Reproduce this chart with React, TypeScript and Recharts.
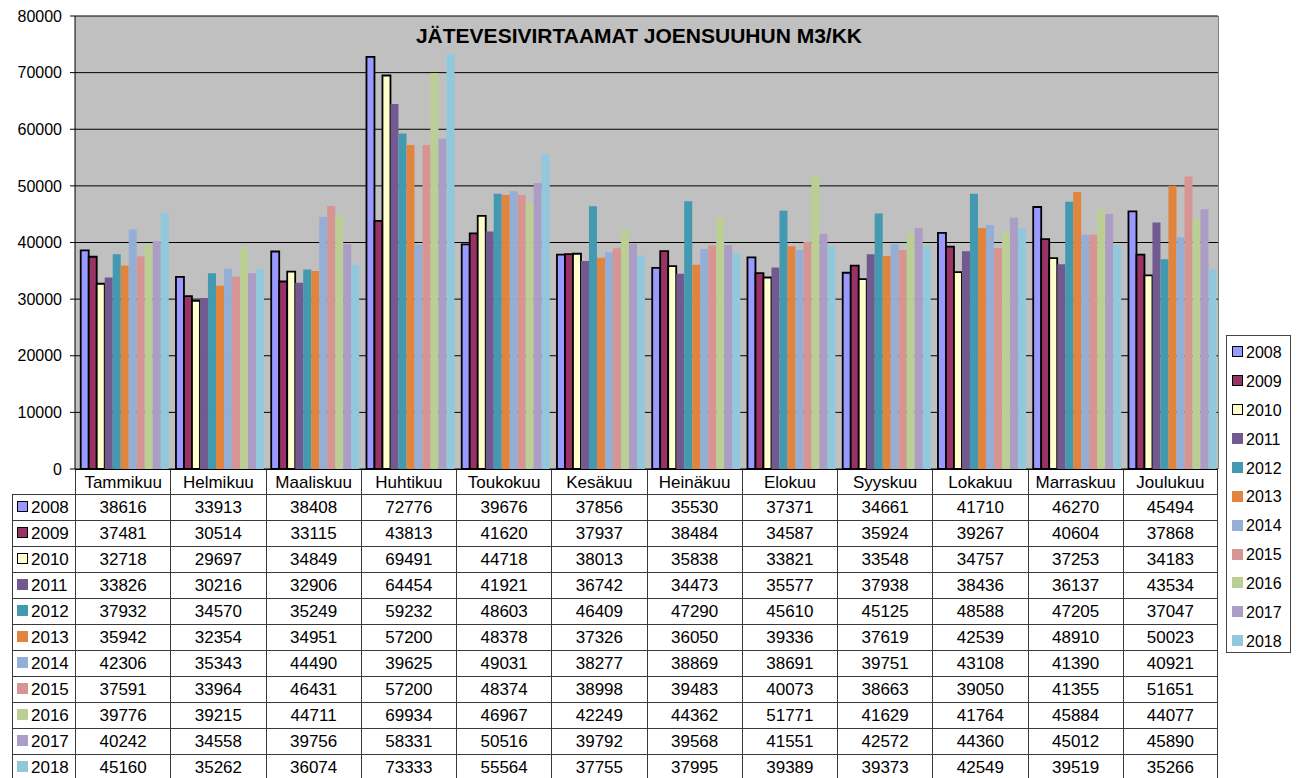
import { BarChart, Bar, XAxis, YAxis, CartesianGrid } from 'recharts';

const months = ['Tammikuu', 'Helmikuu', 'Maaliskuu', 'Huhtikuu', 'Toukokuu', 'Kesäkuu', 'Heinäkuu', 'Elokuu', 'Syyskuu', 'Lokakuu', 'Marraskuu', 'Joulukuu'];

const y2008 = [38616, 33913, 38408, 72776, 39676, 37856, 35530, 37371, 34661, 41710, 46270, 45494];
const y2009 = [37481, 30514, 33115, 43813, 41620, 37937, 38484, 34587, 35924, 39267, 40604, 37868];
const y2010 = [32718, 29697, 34849, 69491, 44718, 38013, 35838, 33821, 33548, 34757, 37253, 34183];
const y2011 = [33826, 30216, 32906, 64454, 41921, 36742, 34473, 35577, 37938, 38436, 36137, 43534];
const y2012 = [37932, 34570, 35249, 59232, 48603, 46409, 47290, 45610, 45125, 48588, 47205, 37047];
const y2013 = [35942, 32354, 34951, 57200, 48378, 37326, 36050, 39336, 37619, 42539, 48910, 50023];
const y2014 = [42306, 35343, 44490, 39625, 49031, 38277, 38869, 38691, 39751, 43108, 41390, 40921];
const y2015 = [37591, 33964, 46431, 57200, 48374, 38998, 39483, 40073, 38663, 39050, 41355, 51651];
const y2016 = [39776, 39215, 44711, 69934, 46967, 42249, 44362, 51771, 41629, 41764, 45884, 44077];
const y2017 = [40242, 34558, 39756, 58331, 50516, 39792, 39568, 41551, 42572, 44360, 45012, 45890];
const y2018 = [45160, 35262, 36074, 73333, 55564, 37755, 37995, 39389, 39373, 42549, 39519, 35266];

const yTicks = [0, 10000, 20000, 30000, 40000, 50000, 60000, 70000, 80000];

const series = [
  { key: '2008', values: y2008, color: '#9999FF', outlined: true },
  { key: '2009', values: y2009, color: '#993366', outlined: true },
  { key: '2010', values: y2010, color: '#FFFFCC', outlined: true },
  { key: '2011', values: y2011, color: '#72598F', outlined: false },
  { key: '2012', values: y2012, color: '#4299B0', outlined: false },
  { key: '2013', values: y2013, color: '#E0843E', outlined: false },
  { key: '2014', values: y2014, color: '#94AED6', outlined: false },
  { key: '2015', values: y2015, color: '#D69592', outlined: false },
  { key: '2016', values: y2016, color: '#BBCF95', outlined: false },
  { key: '2017', values: y2017, color: '#AB9DC5', outlined: false },
  { key: '2018', values: y2018, color: '#92C8DC', outlined: false },
];

const data = months.map((m, i) => {
  const row: Record<string, string | number> = { month: m };
  series.forEach((s) => (row[s.key] = s.values[i]));
  return row;
});

const FONT = '"Liberation Sans", Arial, sans-serif';
const plotLeft = 75;
const plotRight = 1218;
const colW = (plotRight - plotLeft) / 12;
const headTop = 469;
const headH = 25;
const rowH = 26;
const tableLeft = 12;
const lineColor = '#3a3a3a';

const Key = ({ color, outlined }: { color: string; outlined: boolean }) => (
  <span
    style={{
      display: 'inline-block',
      width: 9,
      height: 9,
      background: color,
      border: outlined ? '1.5px solid #000' : `1.5px solid ${color}`,
      marginRight: 3,
      verticalAlign: 'middle',
      position: 'relative',
      top: -2,
    }}
  />
);

const App = () => {
  return (
    <div style={{ position: 'absolute', left: 0, top: 0, width: 1298, height: 778, background: '#fff', fontFamily: FONT, overflow: 'hidden' }}>
      <BarChart
        width={1298}
        height={482}
        data={data}
        margin={{ top: 16, right: 1298 - plotRight, bottom: 13, left: 0 }}
        barCategoryGap="6%"
        barGap={0}
      >
        <CartesianGrid vertical={false} stroke="#000" fill="#C0C0C0" />
        <XAxis dataKey="month" hide />
        <YAxis
          width={plotLeft}
          domain={[0, 80000]}
          ticks={yTicks}
          interval={0}
          tickSize={5}
          tickMargin={8}
          axisLine={{ stroke: '#000' }}
          tickLine={{ stroke: '#000' }}
          tick={{ fill: '#000', fontSize: 16, fontFamily: FONT }}
        />
        {series.map((s) => (
          <Bar
            key={s.key}
            dataKey={s.key}
            fill={s.color}
            stroke={s.outlined ? '#000' : 'none'}
            strokeWidth={s.outlined ? 1.8 : 0}
            isAnimationActive={false}
          />
        ))}
      </BarChart>

      {/* plot frame right edge */}
      <div style={{ position: 'absolute', left: plotRight, top: 16, width: 1, height: 453, background: '#808080' }} />

      <div
        style={{
          position: 'absolute',
          left: plotLeft,
          width: plotRight - plotLeft - 15,
          top: 24,
          textAlign: 'center',
          fontWeight: 'bold',
          fontSize: 21,
          color: '#000',
        }}
      >
        JÄTEVESIVIRTAAMAT JOENSUUHUN M3/KK
      </div>

      {/* data table */}
      {months.map((m, c) => (
        <div
          key={m}
          style={{
            position: 'absolute',
            left: plotLeft + c * colW,
            top: headTop,
            width: colW,
            height: headH,
            boxSizing: 'border-box',
            borderLeft: `1px solid ${lineColor}`,
            borderRight: c === 11 ? `1px solid ${lineColor}` : undefined,
            borderTop: '1px solid #000',
            fontSize: 17,
            lineHeight: `${headH}px`,
            textAlign: 'center',
            color: '#000',
          }}
        >
          {m}
        </div>
      ))}
      {series.map((s, r) => (
        <div key={s.key}>
          <div
            style={{
              position: 'absolute',
              left: tableLeft,
              top: headTop + headH + r * rowH,
              width: plotLeft - tableLeft,
              height: rowH,
              boxSizing: 'border-box',
              borderLeft: `1px solid ${lineColor}`,
              borderTop: `1px solid ${lineColor}`,
              fontSize: 17,
              lineHeight: `${rowH - 1}px`,
              paddingLeft: 4,
              color: '#000',
              whiteSpace: 'nowrap',
            }}
          >
            <Key color={s.color} outlined={s.outlined} />
            {s.key}
          </div>
          {s.values.map((v, c) => (
            <div
              key={c}
              style={{
                position: 'absolute',
                left: plotLeft + c * colW,
                top: headTop + headH + r * rowH,
                width: colW,
                height: rowH,
                boxSizing: 'border-box',
                borderLeft: `1px solid ${lineColor}`,
                borderRight: c === 11 ? `1px solid ${lineColor}` : undefined,
                borderTop: `1px solid ${lineColor}`,
                fontSize: 17,
                lineHeight: `${rowH - 1}px`,
                textAlign: 'center',
                color: '#000',
              }}
            >
              {v}
            </div>
          ))}
        </div>
      ))}

      {/* legend */}
      <div
        style={{
          position: 'absolute',
          left: 1226,
          top: 335,
          width: 65,
          height: 318,
          boxSizing: 'border-box',
          border: '1px solid #444',
          paddingTop: 3,
        }}
      >
        {series.map((s) => (
          <div key={s.key} style={{ height: 28.9, lineHeight: '28.9px', fontSize: 16, paddingLeft: 5, color: '#000', whiteSpace: 'nowrap' }}>
            <Key color={s.color} outlined={s.outlined} />
            {s.key}
          </div>
        ))}
      </div>
    </div>
  );
};

export default App;
